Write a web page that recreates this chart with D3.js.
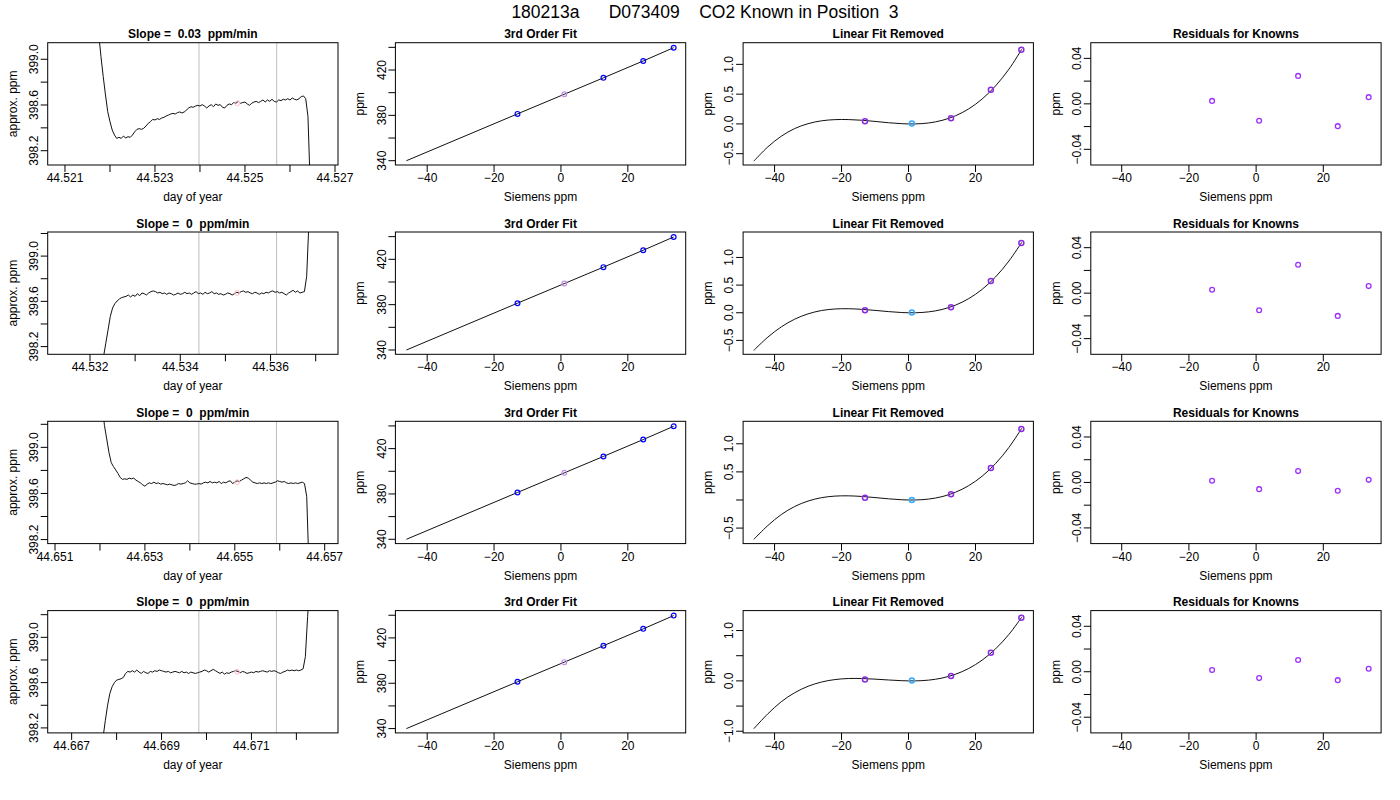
<!DOCTYPE html>
<html><head><meta charset="utf-8">
<script src="https://cdn.jsdelivr.net/npm/d3@7"></script>
<style>
body{margin:0;background:#fff;}
svg{display:block;font-family:"Liberation Sans",Arial,Helvetica,sans-serif;}
</style></head><body>
<svg id="chart" width="1400" height="800"></svg>
<script>
// ---------------- DATA ----------------
const mainTitle = "180213a      D073409    CO2 Known in Position  3";
const slopeTitles = ["Slope =  0.03  ppm/min", "Slope =  0  ppm/min", "Slope =  0  ppm/min", "Slope =  0  ppm/min"];

// time-series panels (column 1): x = start + i*step (day of year), y = approx. ppm
const tsStart = [44.52175, 44.5322, 44.6520, 44.6677];
const tsStep = 0.00005;
const tsY1 = [399.22,399.023,398.848,398.688,398.542,398.454,398.381,398.337,398.308,398.317,398.308,398.328,398.311,398.323,398.317,398.337,398.366,398.387,398.393,398.387,398.396,398.416,398.439,398.454,398.474,398.469,398.480,398.474,398.486,398.492,398.504,398.512,398.521,398.527,398.521,398.533,398.539,398.530,398.539,398.556,398.574,398.585,398.580,398.591,398.597,398.591,398.603,398.591,398.574,398.591,398.603,398.585,398.609,398.597,398.603,398.580,398.574,398.597,398.609,398.603,398.621,398.615,398.632,398.615,398.621,398.626,398.609,398.597,398.615,398.626,398.632,398.621,398.632,398.644,398.626,398.644,398.632,398.650,398.632,398.626,398.644,398.638,398.650,398.644,398.655,398.644,398.661,398.650,398.644,398.655,398.673,398.679,398.655,398.498,397.885];
const tsY2 = [397.9,397.99,398.111,398.230,398.348,398.467,398.541,398.579,398.603,398.621,398.633,398.639,398.644,398.656,398.639,398.656,398.644,398.668,398.650,398.674,398.668,398.656,398.674,398.686,398.692,398.686,398.674,398.680,398.668,398.674,398.662,398.674,398.668,398.656,398.662,398.674,398.662,398.668,398.680,398.668,398.674,398.662,398.674,398.686,398.668,398.674,398.662,398.680,398.668,398.674,398.686,398.668,398.674,398.662,398.668,398.656,398.662,398.674,398.668,398.656,398.668,398.680,398.674,398.686,398.692,398.680,398.686,398.674,398.668,398.680,398.674,398.662,398.674,398.668,398.680,398.674,398.686,398.692,398.680,398.686,398.674,398.680,398.668,398.656,398.674,398.686,398.698,398.680,398.692,398.674,398.680,398.686,398.822,399.296];
const tsY3 = [399.4,399.366,399.190,399.073,398.956,398.868,398.833,398.804,398.774,398.739,398.722,398.727,398.722,398.733,398.727,398.733,398.716,398.704,398.692,398.675,398.663,398.681,398.692,398.686,398.698,398.686,398.692,398.681,398.686,398.681,398.675,398.681,398.675,398.669,398.675,398.686,398.681,398.686,398.692,398.710,398.692,398.686,398.681,398.681,398.686,398.681,398.692,398.698,398.692,398.704,398.692,398.698,398.692,398.704,398.686,398.698,398.692,398.704,398.710,398.686,398.698,398.710,398.704,398.716,398.727,398.739,398.733,398.716,398.698,398.692,398.686,398.692,398.686,398.692,398.686,398.692,398.686,398.692,398.698,398.710,398.704,398.698,398.704,398.692,398.686,398.692,398.686,398.692,398.686,398.692,398.698,398.686,398.575,397.960];
const tsY4 = [398.120,398.268,398.401,398.504,398.563,398.599,398.622,398.628,398.634,398.646,398.681,398.699,398.693,398.705,398.693,398.711,398.693,398.681,398.699,398.687,398.681,398.699,398.693,398.705,398.699,398.711,398.705,398.699,398.693,398.699,398.687,398.693,398.699,398.693,398.687,398.699,398.687,398.693,398.681,398.693,398.687,398.681,398.687,398.693,398.699,398.711,398.705,398.693,398.705,398.717,398.705,398.693,398.681,398.693,398.675,398.687,398.681,398.693,398.699,398.705,398.699,398.687,398.699,398.693,398.681,398.687,398.693,398.687,398.699,398.693,398.699,398.705,398.699,398.693,398.705,398.699,398.705,398.699,398.687,398.681,398.693,398.699,398.711,398.705,398.711,398.705,398.711,398.705,398.711,398.722,398.829,399.183,399.478];
const tsXRange = [[44.520616,44.527067],[44.531063,44.537494],[44.650837,44.657296],[44.666467,44.672926]];
const tsYRange = [[398.075,399.145],[398.132,399.213],[398.165,399.226],[398.156,399.236]];
const tsXTicks = [
  [44.521,44.522,44.523,44.524,44.525,44.526,44.527],
  [44.532,44.533,44.534,44.535,44.536,44.537],
  [44.651,44.652,44.653,44.654,44.655,44.656,44.657],
  [44.667,44.668,44.669,44.670,44.671,44.672]];
const tsXLabels = [
  [44.521,44.523,44.525,44.527],
  [44.532,44.534,44.536],
  [44.651,44.653,44.655,44.657],
  [44.667,44.669,44.671]];
const tsYTicks = [398.2,398.4,398.6,398.8,399.0,399.2];
const tsYLabels = [398.2,398.6,399.0];
const windowStart = [44.523978, 44.534413, 44.654200, 44.669830];
const windowEnd   = [44.525704, 44.536133, 44.655926, 44.671556];
const unknownTime = [44.524829, 44.535262, 44.655052, 44.670681];
const unknownPpm  = [398.615, 398.674, 398.698, 398.696];

// 3rd order fit (column 2)
const knownSiemens = [-13.0, 12.7, 24.6, 33.7];
const knownPpm = [381.3, 413.1, 428.0, 439.7];
const unknownSiemens = 1.0;
const unknownAssigned = 398.6;
const fitCurveX = [-46.2, -13.0, 1.0, 12.7, 24.6, 33.7];
const fitCurveY = [340.0, 381.3, 398.6, 413.1, 428.0, 439.7];
const fitXRange = [-49.5, 37.3];
const fitYRange = [336.2, 444.1];
const fitYTicks = [340, 360, 380, 400, 420, 440];
const fitYLabels = [340, 380, 420];
const sieXTicks = [-40, -20, 0, 20];

// linear fit removed (column 3)
const resCurveX = [-46.2,-42,-38,-34,-30,-26,-22,-18,-14,-10,-6,-2,2,6,10,14,18,22,26,30,33.8];
const resCurveY = [
  [-0.625,-0.385,-0.207,-0.078,0.004,0.052,0.072,0.073,0.062,0.042,0.020,0.004,0.000,0.016,0.059,0.136,0.253,0.419,0.639,0.920,1.252],
  [-0.680,-0.440,-0.255,-0.116,-0.020,0.040,0.068,0.073,0.062,0.043,0.021,0.004,0.000,0.016,0.059,0.137,0.256,0.424,0.648,0.936,1.272],
  [-0.700,-0.454,-0.259,-0.116,-0.019,0.041,0.069,0.074,0.063,0.043,0.021,0.004,0.000,0.016,0.059,0.137,0.256,0.424,0.648,0.936,1.275],
  [-0.950,-0.653,-0.414,-0.235,-0.107,-0.023,0.026,0.047,0.047,0.035,0.018,0.004,0.000,0.015,0.056,0.131,0.247,0.413,0.636,0.924,1.264]];
const linPtsX = [-13.0, 1.0, 12.7, 24.6, 33.7];
const linPtsY = [
  [0.045, 0.006, 0.095, 0.575, 1.245],
  [0.045, 0.005, 0.100, 0.575, 1.260],
  [0.041, 0.000, 0.100, 0.571, 1.265],
  [0.026, 0.007, 0.099, 0.560, 1.254]];
const linXRange = [-49.4, 37.3];
const linYRange = [[-0.690,1.364],[-0.751,1.460],[-0.776,1.400],[-1.033,1.396]];
const linYTicks = [[-0.5,0,0.5,1.0],[-0.5,0,0.5,1.0],[-0.5,0,0.5,1.0],[-1.0,-0.5,0,0.5,1.0]];
const linYLabels = [[-0.5,0,0.5,1.0],[-0.5,0,0.5,1.0],[-0.5,0.5,1.0],[-1.0,0,1.0]];

// residuals for knowns (column 4)
const residX = [-13.1, 0.9, 12.5, 24.3, 33.5];
const residY = [
  [0.0026, -0.0149, 0.0246, -0.0196, 0.0059],
  [0.0030, -0.0150, 0.0250, -0.0200, 0.0062],
  [0.0015, -0.0059, 0.0100, -0.0073, 0.0023],
  [0.0015, -0.0056, 0.0103, -0.0074, 0.0026]];
const residXRange = [-49.2, 37.2];
const residYRange = [-0.0538, 0.0538];
const residYTicks = [-0.04, -0.02, 0, 0.02, 0.04];
const residYLabels = [-0.04, 0, 0.04];

// ---------------- DRAW ----------------
const svg = d3.select("#chart");
svg.append("rect").attr("width",1400).attr("height",800).attr("fill","#fff");
svg.append("text").attr("x",705).attr("y",18).attr("text-anchor","middle")
  .attr("xml:space","preserve").style("white-space","pre")
  .style("font-size","17.5px").attr("fill","#000").text(mainTitle);

const PW = 290.3, PH = 122.3;
const colLeft = c => 47.7 + c*347.7;
const rowTop = r => 42.7 + r*189.3;
let clipN = 0;

function panel(r, c, cfg){
  const L = colLeft(c), T = rowTop(r);
  const g = svg.append("g").attr("transform",`translate(${L},${T})`);
  const x = d3.scaleLinear().domain(cfg.xRange).range([0,PW]);
  const y = d3.scaleLinear().domain(cfg.yRange).range([PH,0]);
  const id = "clip"+(clipN++);
  g.append("clipPath").attr("id",id).append("rect").attr("width",PW).attr("height",PH);
  const inner = g.append("g").attr("clip-path",`url(#${id})`);
  cfg.draw(inner, x, y);
  // x axis
  const xlab = new Set(cfg.xLabels.map(v=>+v.toFixed(6)));
  cfg.xTicks.forEach(t=>{
    g.append("line").attr("x1",x(t)).attr("x2",x(t)).attr("y1",PH).attr("y2",PH+7)
      .attr("stroke","#000").attr("stroke-width",1);
    if (xlab.has(+t.toFixed(6)))
      g.append("text").attr("x",x(t)).attr("y",PH+17).attr("text-anchor","middle")
        .style("font-size","12px").text(cfg.xFmt(t));
  });
  // y axis
  const ylab = new Set(cfg.yLabels.map(v=>+v.toFixed(6)));
  cfg.yTicks.forEach(t=>{
    if (y(t) < -0.5 || y(t) > PH+0.5) return;
    g.append("line").attr("x1",0).attr("x2",-7).attr("y1",y(t)).attr("y2",y(t))
      .attr("stroke","#000").attr("stroke-width",1);
    if (ylab.has(+t.toFixed(6)))
      g.append("text").attr("transform",`translate(${-9.7},${y(t)}) rotate(-90)`)
        .attr("text-anchor","middle").style("font-size","12px").text(cfg.yFmt(t));
  });
  g.append("rect").attr("width",PW).attr("height",PH).attr("fill","none")
    .attr("stroke","#000").attr("stroke-width",1);
  g.append("text").attr("x",PW/2).attr("y",-4.5).attr("text-anchor","middle")
    .attr("xml:space","preserve").style("white-space","pre")
    .style("font-size","12px").style("font-weight","bold").text(cfg.title);
  g.append("text").attr("x",PW/2).attr("y",PH+36).attr("text-anchor","middle")
    .style("font-size","12px").text(cfg.xTitle);
  g.append("text").attr("transform",`translate(-31,${PH/2}) rotate(-90)`)
    .attr("text-anchor","middle").style("font-size","12px").text(cfg.yTitle);
}

const tsYs = [tsY1, tsY2, tsY3, tsY4];
const circ = (g, cx, cy, color, rr, sw) => g.append("circle").attr("cx",cx).attr("cy",cy)
  .attr("r",rr).attr("fill","none").attr("stroke",color).attr("stroke-width",sw);

for (let r=0; r<4; r++){
  // column 1: time series
  panel(r, 0, {
    xRange: tsXRange[r], yRange: tsYRange[r],
    xTicks: tsXTicks[r], xLabels: tsXLabels[r], xFmt: d3.format(".3f"),
    yTicks: tsYTicks, yLabels: tsYLabels, yFmt: d3.format(".1f"),
    title: slopeTitles[r], xTitle: "day of year", yTitle: "approx. ppm",
    draw: (g, x, y) => {
      [windowStart[r], windowEnd[r]].forEach(v =>
        g.append("line").attr("x1",x(v)).attr("x2",x(v)).attr("y1",0).attr("y2",PH)
          .attr("stroke","#BEBEBE").attr("stroke-width",1));
      const pts = tsYs[r].map((v,i)=>[tsStart[r]+i*tsStep, v]);
      g.append("path").attr("d", d3.line().x(d=>x(d[0])).y(d=>y(d[1]))(pts))
        .attr("fill","none").attr("stroke","#111").attr("stroke-width",1);
      circ(g, x(unknownTime[r]), y(unknownPpm[r]), "#FFC0CB", 2.4, 1);
    }
  });
  // column 2: 3rd order fit
  panel(r, 1, {
    xRange: fitXRange, yRange: fitYRange,
    xTicks: sieXTicks, xLabels: sieXTicks, xFmt: d3.format("d"),
    yTicks: fitYTicks, yLabels: fitYLabels, yFmt: d3.format("d"),
    title: "3rd Order Fit", xTitle: "Siemens ppm", yTitle: "ppm",
    draw: (g, x, y) => {
      const pts = fitCurveX.map((v,i)=>[v, fitCurveY[i]]);
      g.append("path").attr("d", d3.line().x(d=>x(d[0])).y(d=>y(d[1]))(pts))
        .attr("fill","none").attr("stroke","#111").attr("stroke-width",1);
      knownSiemens.forEach((v,i)=>circ(g, x(v), y(knownPpm[i]), "#0000FF", 2.4, 1.2));
      circ(g, x(unknownSiemens), y(unknownAssigned), "#C08FE8", 2.4, 1.2);
    }
  });
  // column 3: linear fit removed
  panel(r, 2, {
    xRange: linXRange, yRange: linYRange[r],
    xTicks: sieXTicks, xLabels: sieXTicks, xFmt: d3.format("d"),
    yTicks: linYTicks[r], yLabels: linYLabels[r], yFmt: d3.format(".1f"),
    title: "Linear Fit Removed", xTitle: "Siemens ppm", yTitle: "ppm",
    draw: (g, x, y) => {
      const pts = resCurveX.map((v,i)=>[v, resCurveY[r][i]]);
      g.append("path").attr("d", d3.line().curve(d3.curveCatmullRom).x(d=>x(d[0])).y(d=>y(d[1]))(pts))
        .attr("fill","none").attr("stroke","#111").attr("stroke-width",1);
      linPtsX.forEach((v,i)=>{
        const col = i===1 ? "#33AAFF" : "#8A2BE2";
        circ(g, x(v), y(linPtsY[r][i]), col, 2.5, 1.5);
      });
    }
  });
  // column 4: residuals
  panel(r, 3, {
    xRange: residXRange, yRange: residYRange,
    xTicks: sieXTicks, xLabels: sieXTicks, xFmt: d3.format("d"),
    yTicks: residYTicks, yLabels: residYLabels, yFmt: d3.format(".2f"),
    title: "Residuals for Knowns", xTitle: "Siemens ppm", yTitle: "ppm",
    draw: (g, x, y) => {
      residX.forEach((v,i)=>circ(g, x(v), y(residY[r][i]), "#9B30FF", 2.4, 1.3));
    }
  });
}
</script>
</body></html>
